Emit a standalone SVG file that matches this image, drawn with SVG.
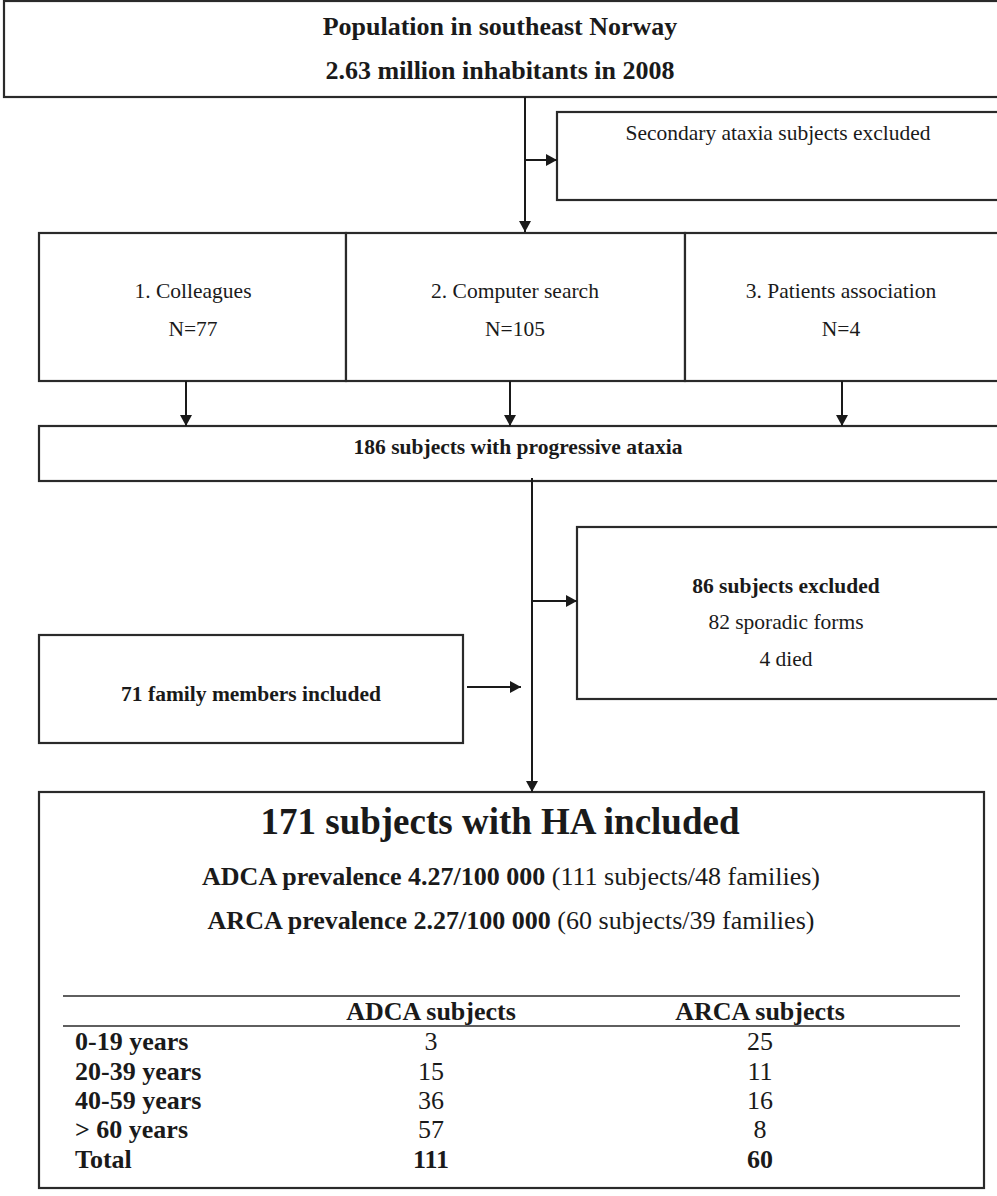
<svg xmlns="http://www.w3.org/2000/svg" width="997" height="1196" viewBox="0 0 997 1196">
<style>
.box{fill:#fff;stroke:#2a2a2a;stroke-width:2.2}
.sep{stroke:#2a2a2a;stroke-width:1.5}
.t{font-family:"Liberation Serif","Times New Roman",serif;fill:#1a1a1a}
.b{font-weight:bold}
.m{text-anchor:middle}
.s21{font-size:21.5px}
.s26{font-size:26px}
.con{stroke:#1a1a1a;stroke-width:2;fill:none}
</style>
<defs>
<marker id="ah" viewBox="0 0 11 12" refX="11" refY="6" markerWidth="11" markerHeight="12" markerUnits="userSpaceOnUse" orient="auto">
<path d="M0,0 L11,6 L0,12 z" fill="#1a1a1a"/>
</marker>
</defs>
<rect width="997" height="1196" fill="#fff"/>

<g id="population">
<rect class="box" x="4" y="1" width="1000" height="96"/>
<text class="t b m s26" x="500" y="35">Population in southeast Norway</text>
<text class="t b m s26" x="500" y="79">2.63 million inhabitants in 2008</text>
</g>

<g id="secondary">
<rect class="box" x="557" y="112" width="447" height="88"/>
<text class="t m s21" x="778" y="140">Secondary ataxia subjects excluded</text>
</g>

<g id="colleagues">
<rect class="box" x="39" y="233" width="307" height="148"/>
<text class="t m s21" x="193" y="298">1. Colleagues</text>
<text class="t m s21" x="193" y="336">N=77</text>
</g>
<g id="computer">
<rect class="box" x="346" y="233" width="339" height="148"/>
<text class="t m s21" x="515" y="298">2. Computer search</text>
<text class="t m s21" x="515" y="336">N=105</text>
</g>
<g id="patients">
<rect class="box" x="685" y="233" width="319" height="148"/>
<text class="t m s21" x="841" y="298">3. Patients association</text>
<text class="t m s21" x="841" y="336">N=4</text>
</g>

<g id="progressive">
<rect class="box" x="39" y="426" width="965" height="55"/>
<text class="t b m s21" x="518" y="454">186 subjects with progressive ataxia</text>
</g>

<g id="excluded86">
<rect class="box" x="577" y="527" width="427" height="172"/>
<text class="t b m s21" x="786" y="593">86 subjects excluded</text>
<text class="t m s21" x="786" y="629">82 sporadic forms</text>
<text class="t m s21" x="786" y="666">4 died</text>
</g>

<g id="family">
<rect class="box" x="39" y="635" width="424" height="108"/>
<text class="t b m s21" x="251" y="701">71 family members included</text>
</g>

<g id="included">
<rect class="box" x="39" y="792" width="945" height="396"/>
<text class="t b m" font-size="37" x="500" y="834">171 subjects with HA included</text>
<text class="t m s26" x="511" y="885"><tspan class="b">ADCA prevalence 4.27/100 000</tspan> (111 subjects/48 families)</text>
<text class="t m s26" x="511" y="929"><tspan class="b">ARCA prevalence 2.27/100 000</tspan> (60 subjects/39 families)</text>
<line class="sep" x1="63" y1="996" x2="960" y2="996"/>
<line class="sep" x1="63" y1="1026" x2="960" y2="1026"/>
<text class="t b m s26" x="431" y="1020">ADCA subjects</text>
<text class="t b m s26" x="760" y="1020">ARCA subjects</text>
<g class="t s26">
<text class="b" x="75" y="1050">0-19 years</text>
<text class="b" x="75" y="1080">20-39 years</text>
<text class="b" x="75" y="1109">40-59 years</text>
<text class="b" x="75" y="1138">&gt; 60 years</text>
<text class="b" x="75" y="1168">Total</text>
</g>
<g class="t m s26">
<text x="431" y="1050">3</text>
<text x="431" y="1080">15</text>
<text x="431" y="1109">36</text>
<text x="431" y="1138">57</text>
<text class="b" x="431" y="1168">111</text>
<text x="760" y="1050">25</text>
<text x="760" y="1080">11</text>
<text x="760" y="1109">16</text>
<text x="760" y="1138">8</text>
<text class="b" x="760" y="1168">60</text>
</g>
</g>

<g id="connectors">
<line class="con" x1="525" y1="97" x2="525" y2="232" marker-end="url(#ah)"/>
<line class="con" x1="525" y1="160" x2="557" y2="160" marker-end="url(#ah)"/>
<line class="con" x1="186" y1="381" x2="186" y2="426" marker-end="url(#ah)"/>
<line class="con" x1="510" y1="381" x2="510" y2="426" marker-end="url(#ah)"/>
<line class="con" x1="842" y1="381" x2="842" y2="426" marker-end="url(#ah)"/>
<line class="con" x1="532" y1="478" x2="532" y2="792" marker-end="url(#ah)"/>
<line class="con" x1="532" y1="601" x2="577" y2="601" marker-end="url(#ah)"/>
<line class="con" x1="467" y1="687" x2="521" y2="687" marker-end="url(#ah)"/>
</g>
</svg>
